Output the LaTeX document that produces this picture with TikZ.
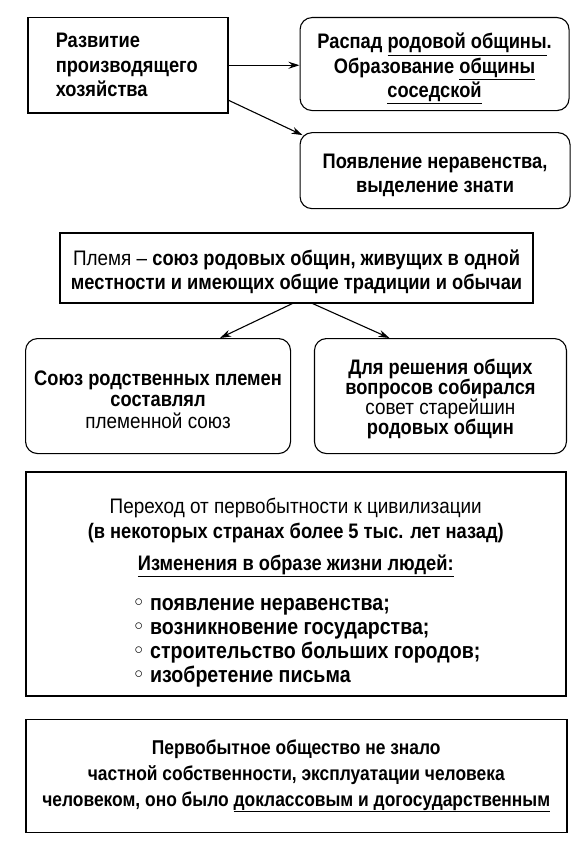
\documentclass[tikz,border=0pt]{standalone}
\usepackage{fontspec}
\setmainfont{Liberation Sans}[UprightFeatures={FakeStretch=0.9}, BoldFeatures={FakeStretch=0.87}]
\newfontfamily\symfont{DejaVu Sans}
\usetikzlibrary{arrows.meta,positioning}

\newcommand{\blt}{\makebox[18pt][l]{\symfont ◦}}

\tikzset{
  % Square frame, thick border
  frame/.style={
    rectangle, draw, line width=1.5pt,
    align=center, font=\fontsize{21}{24.5}\selectfont
  },
  % Rounded box
  rbox/.style={
    rectangle, rounded corners=12pt, draw, line width=1.1pt,
    align=center, font=\fontsize{21}{24.5}\selectfont
  },
  % Bold text for a whole node
  heavy/.style={font=\fontsize{21}{24.5}\selectfont\bfseries},
  % Arrow
  arr/.style={
    -{Stealth[length=11pt,width=7pt]},
    line width=1.1pt
  }
}

\begin{document}
\begin{tikzpicture}[x=1pt, y=-1pt]
  \useasboundingbox (0,0) rectangle (583,851);

  \node[frame, heavy, align=left, anchor=north west, text width=144pt, inner xsep=28pt,
        minimum height=95pt] (razvitie) at (27,17)
        {Развитие\\ производящего\\ хозяйства};
  \node[rbox, heavy, minimum width=269pt, minimum height=93pt,
        right=71pt of razvitie.north east, anchor=north west] (raspad)
        {\rule{0pt}{25pt}Распад \underline{родовой общины}.\\ Образование \underline{общины}\\ \underline{соседской}};
  \node[rbox, heavy, minimum width=270pt, minimum height=76pt,
        below=21pt of raspad.south west, anchor=north west] (neravenstvo)
        {\rule{0pt}{24pt}Появление неравенства,\\ выделение знати};

  \node[frame, minimum width=473pt, minimum height=70pt, anchor=north] (plemya) at (296.5,232)
        {\rule{0pt}{24pt}Племя -- \textbf{союз родовых общин, живущих в одной}\\ \textbf{местности и имеющих общие традиции и обычаи}};
  \node[rbox, minimum width=265pt, minimum height=115pt, anchor=north west,
        font=\fontsize{21}{21.5}\selectfont] (soyuz) at (25,338)
        {\rule{0pt}{22pt}\textbf{Союз родственных племен}\\ \textbf{составлял}\\ племенной союз};
  \node[rbox, minimum width=252pt, minimum height=115pt, anchor=north east,
        font=\fontsize{21}{20}\selectfont] (sovet) at (567,338)
        {\rule{0pt}{22pt}\textbf{Для решения общих}\\ \textbf{вопросов собирался}\\ совет старейшин\\ \textbf{родовых общин}};

  \node[frame, minimum width=540pt, minimum height=224pt, anchor=north west] (perehod) at (25,471)
        {\rule{0pt}{36pt}Переход от первобытности к цивилизации\\
         \textbf{(в некоторых странах более 5 тыс. лет назад)}\\[8pt]
         \textbf{\underline{Изменения в образе жизни людей:}}\\[15pt]
         \hspace*{21pt}\fontsize{22.5}{24}\selectfont\begin{tabular}[t]{@{}l@{}}
           \blt\textbf{появление неравенства;}\\
           \blt\textbf{возникновение государства;}\\
           \blt\textbf{строительство больших городов;}\\
           \blt\textbf{изобретение письма}
         \end{tabular}};
  \node[frame, minimum width=541pt, minimum height=113pt,
        font=\fontsize{20}{26}\selectfont\bfseries,
        below=22pt of perehod.south west, anchor=north west] (obshchestvo)
        {Первобытное общество не знало\\ частной собственности, эксплуатации человека\\
         человеком, оно было \underline{доклассовым и догосударственным}};

  \draw[arr] (razvitie.east) -- (raspad.west |- razvitie.east);
  \draw[arr] ([yshift=-35pt]razvitie.east) -- ([xshift=3pt,yshift=-3pt]neravenstvo.north west);
  \draw[arr] ([xshift=-4pt]plemya.south) -- ([xshift=62pt]soyuz.north);
  \draw[arr] ([xshift=16pt]plemya.south) -- ([xshift=-51pt]sovet.north);
\end{tikzpicture}
\end{document}
